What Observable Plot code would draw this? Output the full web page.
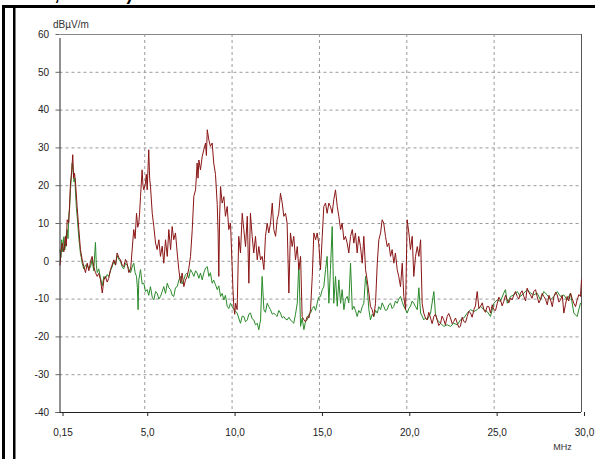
<!DOCTYPE html>
<html>
<head>
<meta charset="utf-8">
<script src="https://cdn.jsdelivr.net/npm/d3@7"></script>
<script src="https://cdn.jsdelivr.net/npm/@observablehq/plot@0.6"></script>
<style>
  html, body { margin: 0; padding: 0; background: white; overflow: hidden; }
  #chart { width: 595px; height: 459px; overflow: hidden; }
  #chart svg { display: block; }
</style>
</head>
<body>
<div id="chart"></div>
<script>
// ---- data ----
const xTickValues = [0.15, 5, 10, 15, 20, 25, 30];
const xTickLabels = ["0,15", "5,0", "10,0", "15,0", "20,0", "25,0", "30,0"];
const xGridValues = [5, 10, 15, 20, 25];
const yTickValues = [-40, -30, -20, -10, 0, 10, 20, 30, 40, 50, 60];
const yGridValues = [-30, -20, -10, 0, 10, 20, 30, 40, 50];
const yUnit = "dBµV/m";
const xUnit = "MHz";
const topCaption = "(150 kHz, 30 MHz)";

// dark red trace: [MHz, dBµV/m]
const redTrace = [[0.15,-1],[0.22,3],[0.28,4.8],[0.37,2.5],[0.46,6.6],[0.51,4],[0.56,11],[0.65,10.1],[0.70,15],[0.75,20.7],[0.82,24],[0.88,28.2],[0.93,22],[0.98,23.3],[1.04,20.7],[1.13,14.5],[1.23,8.4],[1.32,3.1],[1.42,0.4],[1.51,-1.4],[1.61,-3],[1.71,-0.5],[1.80,-2.5],[1.90,0],[1.99,1.3],[2.08,-1.4],[2.18,-3],[2.28,-4],[2.37,-3.2],[2.47,-4.9],[2.57,-8.4],[2.66,-5],[2.75,-4],[2.85,-5.5],[2.94,-4.5],[3.04,-2.2],[3.13,-1],[3.23,0.4],[3.33,-1],[3.42,2.2],[3.52,1],[3.61,0.4],[3.71,-1],[3.80,-1.4],[3.90,0.5],[3.99,-0.5],[4.09,-3],[4.19,-2.2],[4.28,3],[4.37,8.4],[4.45,6],[4.53,12.7],[4.60,9],[4.66,10.1],[4.71,13],[4.76,17.2],[4.85,24.2],[4.90,20],[4.95,18.9],[5.04,20.7],[5.09,23],[5.14,18.9],[5.23,29.5],[5.28,22],[5.33,19.8],[5.43,12.7],[5.52,9.2],[5.62,4.8],[5.71,3.1],[5.81,5.7],[5.90,1.3],[6.00,4],[6.09,-0.5],[6.19,5.7],[6.29,1.3],[6.38,8.4],[6.48,3.1],[6.57,9.2],[6.66,5.7],[6.76,7.5],[6.86,2.2],[6.95,-2.2],[7.05,-5.8],[7.14,-3.1],[7.24,-6.7],[7.33,-5],[7.43,-4],[7.52,-2],[7.62,1.3],[7.72,8.4],[7.81,17.2],[7.91,18.9],[8.00,26],[8.05,22],[8.10,26.8],[8.19,24.2],[8.29,27.7],[8.38,29.5],[8.48,31.3],[8.53,28],[8.58,34.8],[8.67,32.1],[8.76,30.4],[8.86,31.3],[8.95,26],[9.05,23],[9.15,15],[9.20,7.5],[9.24,-4],[9.29,12],[9.34,19.8],[9.43,15.4],[9.53,17.1],[9.62,11.9],[9.72,14.5],[9.81,8.4],[9.91,10.1],[10.01,-2.2],[10.05,-7.5],[10.10,-11.9],[10.15,-14],[10.20,-11.1],[10.29,-12.8],[10.38,6.6],[10.48,2.2],[10.58,12.7],[10.67,8.4],[10.77,3.9],[10.87,11.9],[10.96,-5.8],[11.05,12.7],[11.15,6.6],[11.24,2.2],[11.34,6.6],[11.44,0.4],[11.53,3.9],[11.63,0.4],[11.72,1.3],[11.82,-2.2],[11.91,6.6],[12.01,10.1],[12.10,7.5],[12.20,10.1],[12.30,15.4],[12.39,8.4],[12.49,6.6],[12.58,11],[12.67,12.7],[12.77,18],[12.87,15.4],[12.96,11.9],[13.06,12.7],[13.15,10.1],[13.25,-8.4],[13.34,7.5],[13.44,3.9],[13.53,6.6],[13.63,0.4],[13.73,3.9],[13.82,-2.2],[13.92,1.3],[14.01,-14.6],[14.11,-15.5],[14.20,-16],[14.30,-14.6],[14.40,-15],[14.49,-12.8],[14.59,-4],[14.68,7.5],[14.78,5.7],[14.87,7.5],[14.96,4.8],[15.06,-2.2],[15.16,6.6],[15.25,14.5],[15.35,15.4],[15.44,12.7],[15.54,15.4],[15.63,14.5],[15.73,12.7],[15.82,16.3],[15.92,18.9],[16.02,14.5],[16.11,11.9],[16.21,8.4],[16.30,10.1],[16.40,5.7],[16.49,6.6],[16.59,4.8],[16.68,2.2],[16.78,6.6],[16.88,8.4],[16.97,4.8],[17.06,7.5],[17.16,2.2],[17.25,6.6],[17.35,3.9],[17.45,-0.5],[17.54,6.6],[17.64,-2.2],[17.73,-4.9],[17.83,-8.4],[17.92,-11.9],[18.02,-12.8],[18.11,-14.6],[18.21,-11.1],[18.31,-0.5],[18.40,5.7],[18.50,7.5],[18.59,11],[18.68,10.1],[18.78,6.6],[18.88,3.9],[18.97,4.8],[19.07,1.3],[19.16,3.1],[19.26,-0.5],[19.35,2.2],[19.45,-2.2],[19.54,-4],[19.64,-6.7],[19.74,-0.5],[19.83,-9.3],[19.93,-12.8],[20.02,11],[20.12,7.5],[20.21,3.1],[20.31,6.6],[20.40,-4],[20.50,1.3],[20.60,3.9],[20.69,1.3],[20.79,5.7],[20.88,-11.1],[20.97,-13.7],[21.07,-15],[21.17,-15.5],[21.26,-13.5],[21.36,-15],[21.45,-16.5],[21.55,-14.6],[21.64,-14],[21.74,-15.5],[21.83,-17],[21.93,-16.4],[22.02,-14.5],[22.12,-15.5],[22.21,-16.8],[22.31,-14.6],[22.40,-13.8],[22.50,-15],[22.60,-16.5],[22.69,-15.9],[22.79,-15],[22.89,-16.4],[22.98,-17.5],[23.07,-17.2],[23.17,-14.8],[23.26,-15.9],[23.36,-16.2],[23.46,-14.6],[23.55,-13.2],[23.65,-13.7],[23.74,-14.8],[23.84,-12.8],[23.93,-11.8],[24.03,-8],[24.13,-12.5],[24.22,-11.9],[24.32,-11],[24.41,-12.8],[24.50,-13.5],[24.60,-11.9],[24.70,-12],[24.79,-13.7],[24.89,-11.5],[24.98,-12.8],[25.08,-13],[25.18,-11.1],[25.27,-9.5],[25.36,-10.2],[25.46,-11.8],[25.55,-10.6],[25.65,-9],[25.75,-10.2],[25.84,-11],[25.94,-9.7],[26.03,-10.2],[26.13,-8.9],[26.22,-8],[26.32,-9.3],[26.41,-10],[26.51,-8.4],[26.60,-7.8],[26.70,-9.3],[26.80,-10.5],[26.89,-7.1],[26.98,-8.2],[27.08,-8.9],[27.17,-9.8],[27.27,-8],[27.37,-7.5],[27.46,-9.3],[27.56,-11],[27.65,-10.2],[27.75,-8.5],[27.84,-9.3],[27.94,-10],[28.04,-11.5],[28.14,-9],[28.23,-10.2],[28.33,-12],[28.42,-9.3],[28.52,-8.2],[28.61,-8.9],[28.71,-10.8],[28.80,-10.2],[28.90,-9],[28.99,-13.7],[29.08,-11.5],[29.18,-9.3],[29.27,-10.5],[29.37,-8.4],[29.46,-9.8],[29.56,-11.1],[29.66,-12],[29.75,-10.2],[29.85,-8.8],[29.94,-9.3],[30.00,-4.9]];

// green trace: [MHz, dBµV/m]
const greenTrace = [[0.15,3],[0.20,1],[0.25,5.7],[0.30,2.5],[0.37,6.5],[0.42,3],[0.46,4],[0.51,7],[0.56,8.4],[0.61,6],[0.65,12],[0.70,14],[0.75,19],[0.80,22],[0.85,26],[0.90,24],[0.95,21],[1.00,22],[1.04,18],[1.09,14],[1.13,12],[1.18,9],[1.23,6],[1.28,4],[1.32,2],[1.37,1],[1.42,-0.5],[1.51,-2],[1.61,-1],[1.71,-1],[1.80,-2],[1.90,-1.5],[1.99,0.5],[2.08,-2.5],[2.18,5],[2.23,-1],[2.28,-3],[2.37,-2],[2.47,-4.5],[2.57,-6.5],[2.66,-4],[2.75,-4.5],[2.85,-3.5],[2.94,-4],[3.04,-2.5],[3.13,-1.5],[3.23,0],[3.33,-1],[3.42,1.5],[3.52,0.5],[3.61,0],[3.71,-1.5],[3.80,-2],[3.90,-0.5],[3.99,-1],[4.09,-2],[4.19,-3],[4.28,-1.5],[4.37,-0.5],[4.45,-3],[4.53,-4],[4.58,-7],[4.62,-12.8],[4.66,-5],[4.71,-3.5],[4.76,-2.2],[4.85,-6],[4.95,-5.8],[5.04,-8],[5.14,-7.5],[5.23,-9],[5.33,-6.7],[5.43,-9.5],[5.52,-10.2],[5.62,-8],[5.71,-8.4],[5.81,-10],[5.90,-9.3],[6.00,-8],[6.09,-6.7],[6.19,-8.5],[6.29,-5.8],[6.38,-7],[6.48,-7.5],[6.57,-9],[6.66,-9.3],[6.76,-7],[6.86,-6.7],[6.95,-5],[7.05,-4],[7.14,-6],[7.24,-4.9],[7.33,-3.5],[7.43,-3.1],[7.52,-4.5],[7.62,-2.2],[7.72,-3],[7.81,-4],[7.91,-2.5],[8.00,-3.1],[8.10,-4.5],[8.19,-3.1],[8.29,-4.9],[8.38,-3.1],[8.48,-1.8],[8.58,-1.4],[8.67,-4],[8.76,-3],[8.86,-5.8],[8.95,-5],[9.05,-6.2],[9.15,-7.5],[9.24,-6.5],[9.34,-9.3],[9.43,-8.5],[9.53,-10.2],[9.62,-9],[9.72,-11.9],[9.81,-12.5],[9.91,-11.1],[10.01,-12],[10.10,-12.8],[10.20,-13.2],[10.29,-13.7],[10.38,-15],[10.48,-16.4],[10.58,-14.5],[10.67,-14.6],[10.77,-16],[10.87,-15.5],[10.96,-14],[11.05,-13.7],[11.15,-15.2],[11.24,-15.5],[11.34,-16.8],[11.44,-16.4],[11.53,-18.1],[11.63,-15.5],[11.72,-4],[11.82,-12.8],[11.91,-13.5],[12.01,-11.1],[12.10,-12],[12.20,-12.8],[12.30,-14],[12.39,-13.7],[12.49,-14.2],[12.58,-14.6],[12.67,-13],[12.77,-13.7],[12.87,-15],[12.96,-14.6],[13.06,-15.3],[13.15,-15.5],[13.25,-14.8],[13.34,-15.5],[13.44,-16],[13.53,-16.4],[13.63,-14],[13.73,-11.1],[13.82,-0.5],[13.92,-17.2],[14.01,-15],[14.11,-18.1],[14.20,-16],[14.30,-15.5],[14.40,-14],[14.49,-13.7],[14.59,-12.5],[14.68,-11.9],[14.78,-13],[14.87,-11.1],[14.96,-9.5],[15.06,-9.3],[15.16,-7.5],[15.25,-6.7],[15.35,-2.2],[15.44,1.3],[15.54,-11.1],[15.63,-2.2],[15.73,9.2],[15.82,-11.1],[15.92,-4],[16.02,-11.9],[16.11,-4.9],[16.21,-11.1],[16.30,-7.5],[16.40,-12.8],[16.49,-10],[16.59,-9.3],[16.68,-11],[16.78,-0.5],[16.88,-12.8],[16.97,-11.9],[17.06,-13],[17.16,-14.6],[17.25,-13],[17.35,-13.7],[17.45,-12],[17.54,-11.1],[17.64,-4],[17.73,-6.7],[17.83,-12.8],[17.92,-15.5],[18.02,-14],[18.11,-14.6],[18.21,-13],[18.31,-13.7],[18.40,-12],[18.50,-12.8],[18.59,-11],[18.68,-11.9],[18.78,-13],[18.88,-12.8],[18.97,-11.5],[19.07,-11.1],[19.16,-12.5],[19.26,-11.9],[19.35,-10.5],[19.45,-11.1],[19.54,-10],[19.64,-9.3],[19.74,-10.8],[19.83,-11.9],[19.93,-12.8],[20.02,-13.7],[20.12,-12.5],[20.21,-11.9],[20.31,-10.5],[20.40,-11.1],[20.50,-12],[20.60,-12.8],[20.69,-7],[20.79,-13.7],[20.88,-14.5],[20.97,-15.5],[21.07,-15],[21.17,-15.5],[21.36,-13.7],[21.55,-8],[21.64,-14],[21.74,-15.5],[21.93,-16.4],[22.12,-17.2],[22.31,-16.8],[22.50,-17.2],[22.69,-16.4],[22.89,-16.8],[23.07,-15.5],[23.26,-15],[23.46,-13.7],[23.65,-12.8],[23.84,-13.3],[24.03,-12.8],[24.22,-11.9],[24.41,-12.8],[24.60,-13.3],[24.79,-14.6],[24.98,-11.1],[25.18,-10.2],[25.36,-10.6],[25.55,-8.4],[25.65,-7.5],[25.75,-11.1],[25.94,-9.3],[26.13,-8.9],[26.32,-8],[26.51,-9.3],[26.70,-8.4],[26.89,-7.5],[27.08,-8.4],[27.27,-8.9],[27.46,-8.4],[27.65,-10.2],[27.84,-8],[28.04,-8.9],[28.23,-10.2],[28.42,-9.3],[28.61,-8],[28.80,-9.3],[28.99,-8.9],[29.18,-10.2],[29.37,-8.4],[29.56,-13.7],[29.75,-14.6],[29.94,-11.1]];

const red = redTrace.map(([f, v]) => ({f, v}));
const green = greenTrace.map(([f, v]) => ({f, v}));

const gridStyle = {stroke: "#9a9a9a", strokeOpacity: 1, strokeDasharray: "3,3", strokeWidth: 1};

const chart = Plot.plot({
  width: 595,
  height: 459,
  marginLeft: 59.5,
  marginRight: 14,
  marginTop: 34,
  marginBottom: 47,
  style: {fontFamily: "'Liberation Sans', Arial, sans-serif", fontSize: "10px", color: "#222", background: "white"},
  x: {domain: [0.15, 30], label: null},
  y: {domain: [-40, 60], label: null},
  marks: [
    Plot.gridX(xGridValues, gridStyle),
    Plot.gridY(yGridValues, gridStyle),
    Plot.ruleY([60], {stroke: "#888", strokeWidth: 1}),
    Plot.ruleX([30], {stroke: "#555", strokeWidth: 1}),
    Plot.line(green, {x: "f", y: "v", stroke: "#2a8a2a", strokeWidth: 1}),
    Plot.line(red, {x: "f", y: "v", stroke: "#8a1515", strokeWidth: 1}),
    Plot.ruleX([0.15], {stroke: "#222", strokeWidth: 1, y1: -40, y2: 60, insetBottom: -4}),
    Plot.ruleY([-40], {stroke: "#222", strokeWidth: 1, insetLeft: -4}),
    Plot.axisX({ticks: xTickValues, tickFormat: (d, i) => xTickLabels[i], tickSize: 4, tickPadding: 12, stroke: "#222", fill: "#222", dx: 3}),
    Plot.axisY({ticks: yTickValues, tickFormat: d => String(d), tickSize: 4, tickPadding: 7, stroke: "#666", fill: "#222"}),
    Plot.text([yUnit], {frameAnchor: "top-left", dx: -7, dy: -14, textAnchor: "start", fontSize: 10, fill: "#333"}),
    Plot.text([xUnit], {frameAnchor: "bottom-right", dx: -19, dy: 37, textAnchor: "middle", fontSize: 9, fill: "#333"})
  ]
});

const svg = d3.select(chart);
svg.style("overflow", "hidden");
svg.append("text")
  .attr("x", 57).attr("y", 0)
  .attr("font-family", "'Liberation Sans', Arial, sans-serif")
  .attr("font-weight", "bold").attr("font-size", 18).attr("fill", "black")
  .text(topCaption);
svg.append("rect").attr("x", 2).attr("y", 5).attr("width", 593).attr("height", 3).attr("fill", "black");
svg.append("rect").attr("x", 2).attr("y", 5).attr("width", 3).attr("height", 454).attr("fill", "black");
svg.append("rect").attr("x", 13).attr("y", 5).attr("width", 2.5).attr("height", 454).attr("fill", "black");

document.getElementById("chart").appendChild(chart);
</script>
</body>
</html>
